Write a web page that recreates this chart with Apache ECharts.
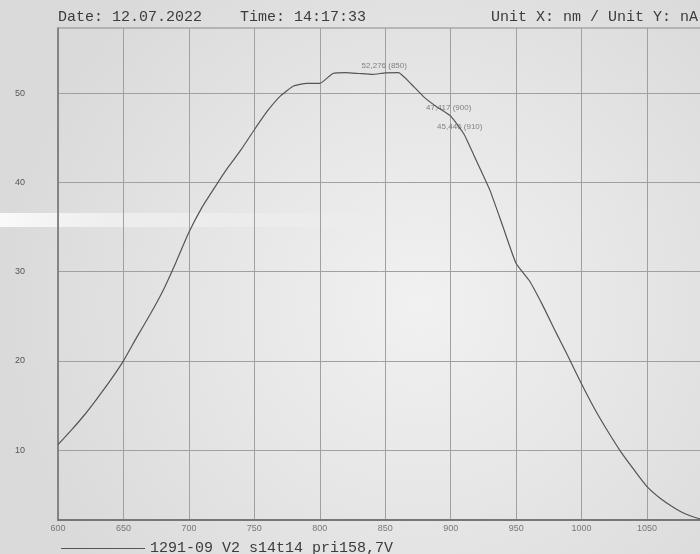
<!DOCTYPE html>
<html>
<head>
<meta charset="utf-8">
<script src="https://cdn.jsdelivr.net/npm/echarts@6/dist/echarts.min.js"></script>
<style>
html,body{margin:0;padding:0;background:#e3e3e3;}
#chart{width:700px;height:554px;}
</style>
</head>
<body>
<div id="chart"></div>
<script>
// ---- data ----
const wavelengths = [600,610,620,630,640,650,660,670,680,690,700,710,720,730,740,750,760,770,780,790,800,810,820,830,840,850,860,870,880,890,900,910,920,930,940,950,960,970,980,990,1000,1010,1020,1030,1040,1050,1060,1070,1080,1090,1100];
const current = [10.6,12.2,13.9,15.8,17.8,20.0,22.6,25.1,27.8,31.0,34.4,37.2,39.5,41.7,43.7,45.9,48.0,49.7,50.8,51.1,51.1,52.2,52.3,52.2,52.1,52.276,52.3,51.0,49.5,48.4,47.417,45.446,42.3,39.1,35.0,30.9,29.0,26.3,23.3,20.4,17.4,14.6,12.1,9.8,7.8,5.9,4.6,3.6,2.8,2.3,2.1];
const annotX = [850,900,910];
const annotY = [52.276,47.417,45.446];
const xTicks = [600,650,700,750,800,850,900,950,1000,1050,1100];
const yTicks = [10,20,30,40,50];
const headerDate = 'Date: 12.07.2022';
const headerTime = 'Time: 14:17:33';
const headerUnits = 'Unit X: nm / Unit Y: nA';
const seriesName = '1291-09 V2 s14t14 pri158,7V';

const chart = echarts.init(document.getElementById('chart'), null, {renderer:'canvas'});
const mono = '"Liberation Mono","DejaVu Sans Mono",monospace';
const labelOffsets = [[-1,-7],[-2,-8],[-4,-7]];

const option = {
  animation:false,
  backgroundColor:{
    type:'radial', x:0.6, y:0.55, r:0.75,
    colorStops:[{offset:0,color:'#f1f1f1'},{offset:0.5,color:'#e6e6e6'},{offset:1,color:'#dadada'}]
  },
  graphic:[
    {type:'rect', left:0, top:213, shape:{width:380,height:14},
     style:{fill:{type:'linear',x:0,y:0,x2:1,y2:0,colorStops:[{offset:0,color:'rgba(255,255,255,0.85)'},{offset:0.3,color:'rgba(255,255,255,0.45)'},{offset:1,color:'rgba(255,255,255,0)'}]}}, z:-1},
    {type:'text', left:58, top:10, style:{text:headerDate, font:'15px '+mono, fill:'#3c3c3c'}},
    {type:'text', left:240, top:10, style:{text:headerTime, font:'15px '+mono, fill:'#3c3c3c'}},
    {type:'text', left:491, top:10, style:{text:headerUnits, font:'15px '+mono, fill:'#3c3c3c'}}
  ],
  legend:{
    left:56, top:536, itemWidth:84, itemHeight:10, itemGap:10,
    textStyle:{fontFamily:mono, fontSize:15, color:'#3c3c3c'},
    data:[{name:seriesName, icon:'path://M0,0L100,0L100,1L0,1Z'}],
    itemStyle:{color:'#555'}
  },
  grid:{left:58, right:-12.5, top:28, bottom:34, show:true, borderColor:'#8a8a8a', borderWidth:1,
    backgroundColor:'transparent', containLabel:false, outerBoundsMode:'none'},
  xAxis:{
    type:'value', min:600, max:1100, interval:50,
    axisLine:{show:true, onZero:false, lineStyle:{color:'#777', width:2}},
    axisTick:{show:false},
    axisLabel:{fontSize:9, color:'#777', margin:4, fontFamily:'"Liberation Sans",Arial,sans-serif',
      customValues:xTicks, formatter:v=>String(v)},
    splitLine:{show:true, lineStyle:{color:'#a0a0a0', width:1}}
  },
  yAxis:{
    type:'value', min:2.16, max:57.3,
    axisLine:{show:true, lineStyle:{color:'#777', width:1.5}},
    axisTick:{show:false, customValues:yTicks},
    axisLabel:{fontSize:9, color:'#555', margin:33, fontFamily:'"Liberation Sans",Arial,sans-serif', customValues:yTicks},
    splitLine:{show:true, lineStyle:{color:'#a0a0a0', width:1}}
  },
  series:[
    {name:seriesName, type:'line', data:wavelengths.map((w,i)=>[w,current[i]]),
     symbol:'none', smooth:0.15, lineStyle:{color:'#555', width:1.2}, itemStyle:{color:'#555'}, clip:true},
    {name:'annot', type:'scatter', symbolSize:0, silent:true,
     data:annotX.map((w,i)=>({value:[w,annotY[i]], label:{offset:labelOffsets[i]}})),
     label:{show:true, position:'inside', fontSize:8, color:'#666', fontFamily:'"Liberation Sans",Arial,sans-serif',
       formatter:p=>p.value[1].toFixed(3).replace('.',',')+' ('+p.value[0]+')'}}
  ]
};
chart.setOption(option);
</script>
</body>
</html>
